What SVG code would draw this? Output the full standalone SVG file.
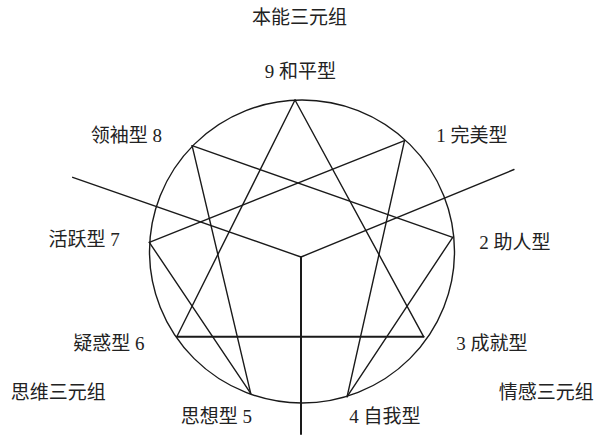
<svg xmlns="http://www.w3.org/2000/svg" width="600" height="445" viewBox="0 0 600 445">
<style>
.ln{stroke:#1a1a1a;stroke-width:1.4;fill:none;stroke-linecap:round}
.thick{stroke-width:2}
.lbl{font-family:"Liberation Serif","Noto Sans CJK SC",serif;font-size:19px;fill:#222;text-anchor:middle}
</style>
<rect width="600" height="445" fill="#fff"/>
<g id="connectors">
<ellipse class="ln" cx="302" cy="251.5" rx="152.5" ry="151.5"/>
<line class="ln" x1="295" y1="100" x2="423.6" y2="336.7"/>
<line class="ln" x1="295" y1="100" x2="176.8" y2="336.7"/>
<line class="ln thick" x1="176.8" y1="336.7" x2="423.6" y2="336.7"/>
<line class="ln" x1="404.5" y1="140.7" x2="347.1" y2="396.7"/>
<line class="ln" x1="347.1" y1="396.7" x2="452.7" y2="237.3"/>
<line class="ln" x1="452.7" y1="237.3" x2="192.1" y2="145.7"/>
<line class="ln" x1="192.1" y1="145.7" x2="250.7" y2="393.3"/>
<line class="ln" x1="250.7" y1="393.3" x2="149.3" y2="242.3"/>
<line class="ln" x1="149.3" y1="242.3" x2="404.5" y2="140.7"/>
<line class="ln" x1="72.7" y1="177.3" x2="301" y2="257"/>
<line class="ln" x1="514" y1="169.5" x2="301" y2="257"/>
<line class="ln thick" x1="301" y1="257" x2="301" y2="434"/>
</g>
<g id="t-instinct"><text class="lbl" x="299.5" y="23.7">本能三元组</text></g>
<g id="n9"><text class="lbl" x="300.5" y="78">9 和平型</text></g>
<g id="n8"><text class="lbl" x="126.3" y="142">领袖型 8</text></g>
<g id="n1"><text class="lbl" x="471.8" y="142">1 完美型</text></g>
<g id="n7"><text class="lbl" x="84.2" y="246">活跃型 7</text></g>
<g id="n2"><text class="lbl" x="515" y="248.7">2 助人型</text></g>
<g id="n6"><text class="lbl" x="109" y="349.7">疑惑型 6</text></g>
<g id="n3"><text class="lbl" x="492" y="350.3">3 成就型</text></g>
<g id="t-thinking"><text class="lbl" x="58.3" y="398.7">思维三元组</text></g>
<g id="t-feeling"><text class="lbl" x="546.3" y="398.7">情感三元组</text></g>
<g id="n5"><text class="lbl" x="216.3" y="423">思想型 5</text></g>
<g id="n4"><text class="lbl" x="384.9" y="423">4 自我型</text></g>
</svg>
